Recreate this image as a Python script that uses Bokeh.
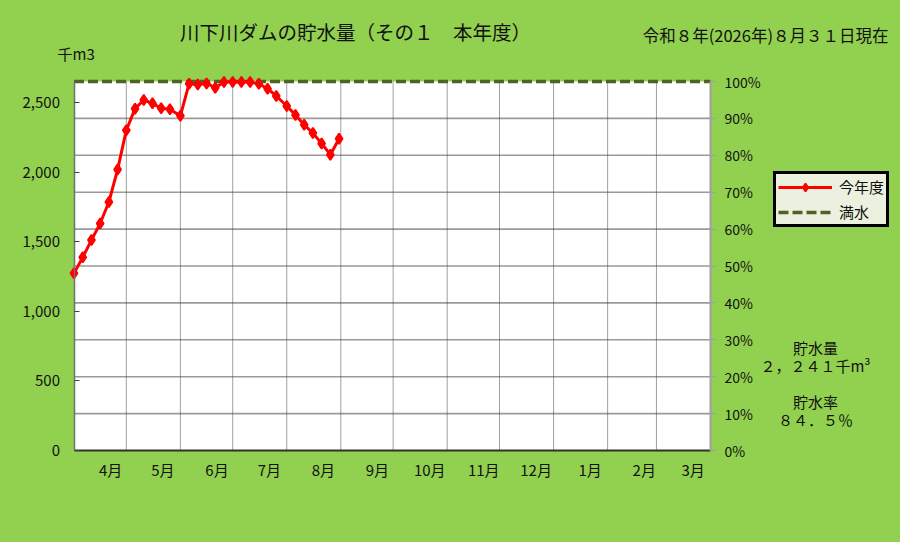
import pandas as pd
from bokeh.plotting import figure
from bokeh.models import (Range1d, LinearAxis, FixedTicker, NumeralTickFormatter,
                          PrintfTickFormatter, Label, Legend, LegendItem)
from bokeh.embed import file_html
from bokeh.resources import INLINE

# ---------------- data ----------------
dates = ["2026-04-01", "2026-04-06", "2026-04-11", "2026-04-16", "2026-04-21", "2026-04-26",
         "2026-05-01", "2026-05-06", "2026-05-11", "2026-05-16", "2026-05-21", "2026-05-26",
         "2026-06-01", "2026-06-06", "2026-06-11", "2026-06-16", "2026-06-21", "2026-06-26",
         "2026-07-01", "2026-07-06", "2026-07-11", "2026-07-16", "2026-07-21", "2026-07-26",
         "2026-08-01", "2026-08-06", "2026-08-11", "2026-08-16", "2026-08-21", "2026-08-26",
         "2026-08-31"]
storage = [1274, 1388, 1512, 1631, 1786, 2019,
           2302, 2457, 2519, 2495, 2459, 2452,
           2405, 2636, 2631, 2638, 2607, 2648,
           2648, 2648, 2648, 2636, 2600, 2548,
           2476, 2412, 2341, 2281, 2207, 2126,
           2241]
capacity = 2652
month_labels = ["4月", "5月", "6月", "7月", "8月", "9月", "10月", "11月", "12月", "1月", "2月", "3月"]
left_ticks = [0, 500, 1000, 1500, 2000, 2500]
pct_ticks = [0, 10, 20, 30, 40, 50, 60, 70, 80, 90, 100]
grid_pcts = [10, 20, 30, 40, 50, 60, 70, 80, 90]
title_text = "川下川ダムの貯水量（その１　本年度）"
date_text = "令和８年(2026年)８月３１日現在"
unit_text = "千m3"
info_lines = ["貯水量", "２，２４１千m³", "貯水率", "８４．５％"]
legend_labels = ["今年度", "満水"]

FONT = "Noto Sans CJK JP"
BG = "#92D050"
TXT = "#111111"
RED = "#FF0000"
OLIVE = "#4F6228"

# ---------------- derived ----------------
start = pd.Timestamp("2026-04-01")
x = [(pd.Timestamp(d) - start).days for d in dates]
month_starts = pd.date_range("2026-04-01", periods=13, freq="MS")
month_off = [(m - start).days for m in month_starts]
year_len = month_off[-1]
label_pos = [m + 21 for m in month_off[:-1]]
inner_bounds = month_off[1:-1]

# canvas geometry: the frame covers the whole canvas, the plot area is placed inside
W, H = 892, 534
PA_L, PA_R, PA_T, PA_B = 73.5, 710.0, 81.0, 450.0   # plot area in canvas px (from top-left)
kx = (PA_R - PA_L) / year_len
ky = (PA_B - PA_T) / capacity
x_range = Range1d(-PA_L / kx, year_len + (W - PA_R) / kx)
y_range = Range1d(-(H - PA_B) / ky, capacity + PA_T / ky)
pct_range = Range1d(y_range.start / capacity * 100, y_range.end / capacity * 100)

p = figure(width=W, height=H, output_backend="svg", toolbar_location=None,
           x_range=x_range, y_range=y_range,
           x_axis_location=None, y_axis_location=None, min_border=0,
           background_fill_color=BG, border_fill_color=BG, outline_line_color=None)
p.grid.visible = False
p.extra_y_ranges = {"pct": pct_range}

# white plot area
p.quad(left=[0], right=[year_len], bottom=[0], top=[capacity],
       fill_color="white", line_color=None, level="underlay")

# horizontal grid lines every 10 %
gy = [capacity * g / 100 for g in grid_pcts]
p.segment(x0=[0] * len(gy), y0=gy, x1=[year_len] * len(gy), y1=gy,
          line_color="#9A9A9A", line_width=1.6)
# vertical month boundaries (dotted)
p.segment(x0=inner_bounds, y0=[0] * len(inner_bounds),
          x1=inner_bounds, y1=[capacity] * len(inner_bounds),
          line_color="#404040", line_width=1, line_dash="1 1")

# left axis
ya = LinearAxis(fixed_location=0, bounds=(0, capacity),
                ticker=FixedTicker(ticks=left_ticks),
                formatter=NumeralTickFormatter(format="0,0"))
ya.major_tick_in = 5
ya.major_tick_out = 0
ya.minor_tick_in = 0
ya.minor_tick_out = 0
ya.major_label_standoff = 14
ya.axis_line_color = "#707070"
ya.axis_line_width = 1.5
ya.major_tick_line_color = "#404040"
ya.major_label_text_font = FONT
ya.major_label_text_font_size = "15px"
ya.major_label_text_color = TXT
p.add_layout(ya, "left")

# bottom axis
xa = LinearAxis(fixed_location=0, bounds=(0, year_len),
                ticker=FixedTicker(ticks=label_pos))
xa.major_label_overrides = {pos: lab for pos, lab in zip(label_pos, month_labels)}
xa.major_tick_in = 0
xa.major_tick_out = 0
xa.minor_tick_in = 0
xa.minor_tick_out = 0
xa.major_label_standoff = 8
xa.axis_line_color = "#303030"
xa.axis_line_width = 2
xa.major_label_text_font = FONT
xa.major_label_text_font_size = "15px"
xa.major_label_text_color = TXT
p.add_layout(xa, "below")

# right axis (percent)
ra = LinearAxis(y_range_name="pct", fixed_location=year_len, bounds=(0, 100),
                ticker=FixedTicker(ticks=pct_ticks),
                formatter=PrintfTickFormatter(format="%d%%"))
ra.major_tick_in = 0
ra.major_tick_out = 5
ra.minor_tick_in = 0
ra.minor_tick_out = 0
ra.major_label_standoff = 9
ra.axis_line_color = "#A0A0A0"
ra.axis_line_width = 2
ra.major_tick_line_color = "#A0A0A0"
ra.major_tick_line_width = 1.5
ra.major_label_text_font = FONT
ra.major_label_text_font_size = "14px"
ra.major_label_text_color = TXT
p.add_layout(ra, "right")

# full water line
full = p.line([0, year_len], [capacity, capacity], line_color=OLIVE,
              line_width=3.5, line_dash="10 4")
# this year
ln = p.line(x, storage, line_color=RED, line_width=3)
mk = p.scatter(x, storage, marker="diamond", size=10.5,
               fill_color=RED, line_color=RED, line_width=1.8)

legend = Legend(items=[LegendItem(label=legend_labels[0], renderers=[ln, mk]),
                       LegendItem(label=legend_labels[1], renderers=[full])],
                location=(773, 307), orientation="vertical",
                background_fill_color="#EBF1DE", background_fill_alpha=1,
                border_line_color="black", border_line_width=3, border_line_alpha=1,
                label_text_font=FONT, label_text_font_size="15px",
                label_text_color=TXT,
                glyph_width=54, glyph_height=20, label_height=20,
                label_standoff=7, padding=2, spacing=4, margin=0)
p.add_layout(legend, "center")


def add_text(text, sx, sy, size, align="center"):
    p.add_layout(Label(x=sx, y=sy, x_units="screen", y_units="screen", text=text,
                       text_font=FONT, text_font_size=size, text_align=align,
                       text_baseline="middle", text_color=TXT))


add_text(title_text, 355, 503, "19.5px")
add_text(date_text, 888, 500, "16.5px", "right")
add_text(unit_text, 57, 481, "15px", "left")
add_text(info_lines[0], 815, 187, "15px")
add_text(info_lines[1], 815, 169, "15px")
add_text(info_lines[2], 815, 133, "15px")
add_text(info_lines[3], 815, 115, "15px")

html = file_html(p, INLINE)
html = html.replace("</head>", "<style>html,body{background:%s;}</style></head>" % BG, 1)
open("out.html", "w").write(html)
